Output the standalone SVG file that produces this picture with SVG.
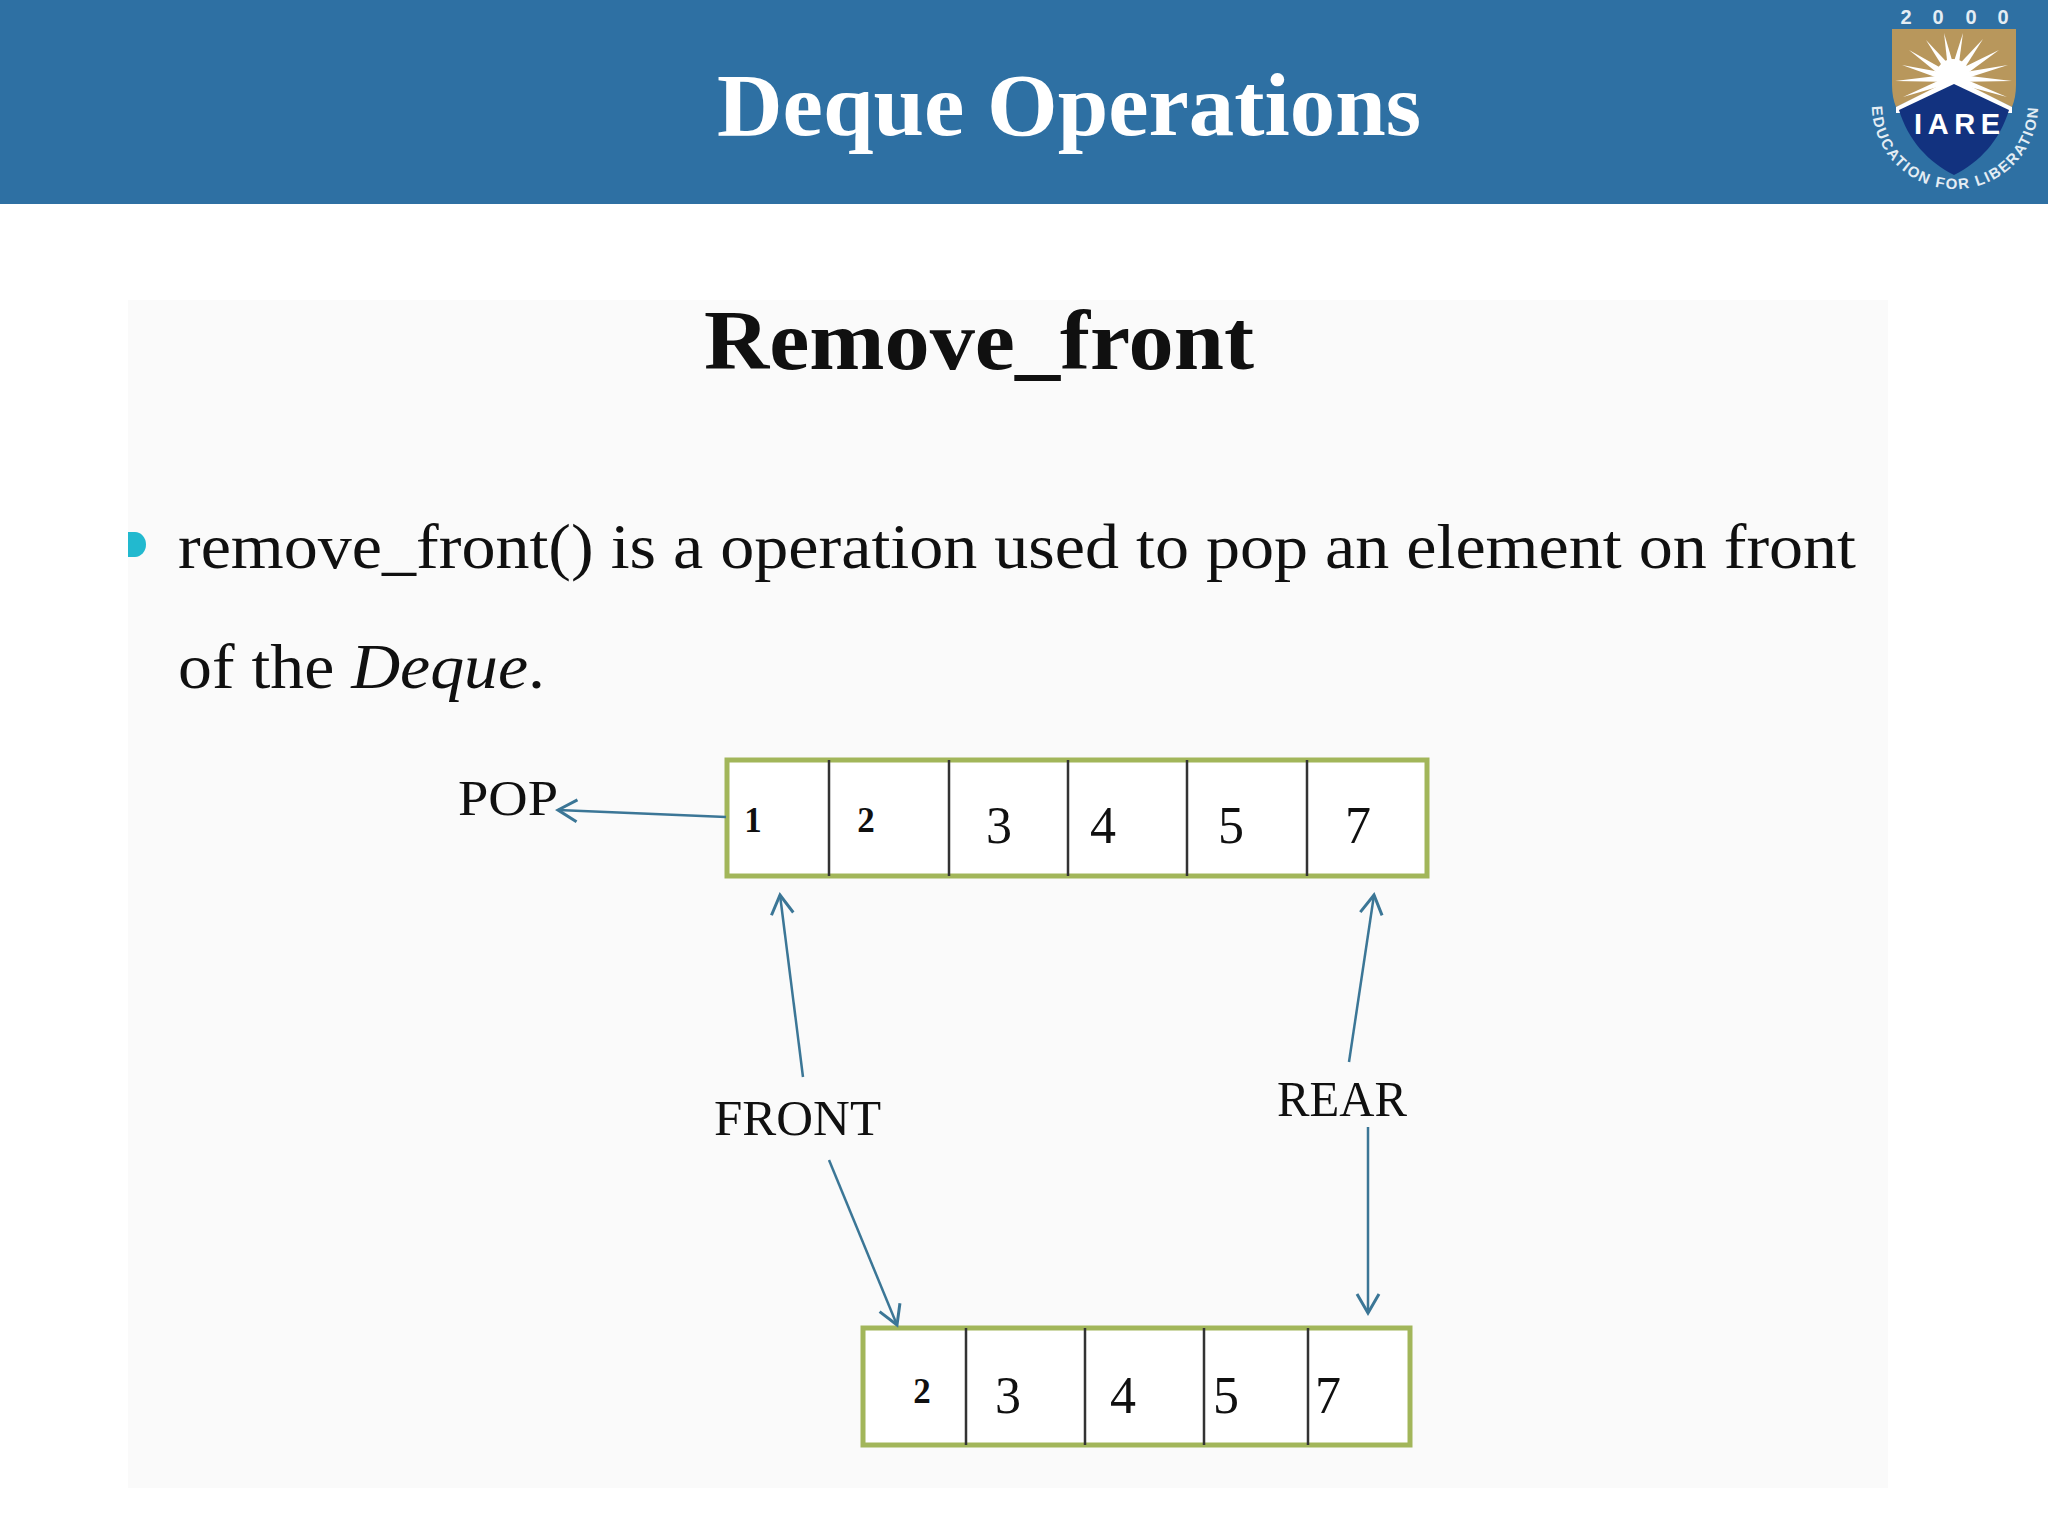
<svg xmlns="http://www.w3.org/2000/svg" width="2048" height="1536" viewBox="0 0 2048 1536">
<style>
.s{font-family:"Liberation Serif","Times New Roman",serif;fill:#101010}
.b{font-weight:700}
.lab{font-size:50px}
.d{font-size:52px}
.ds{font-size:35px;font-weight:700}
.box{fill:#fff;stroke:#a2b65a;stroke-width:5}
.div{stroke:#333;stroke-width:2.5;fill:none}
.con{stroke:#3b7696;stroke-width:2.5;fill:none;marker-end:url(#arr)}
.ray{fill:#fff}
.lg{font-family:"Liberation Sans",Arial,sans-serif;fill:#e4edf4}
</style>
<defs>
<marker id="arr" markerUnits="userSpaceOnUse" markerWidth="30" markerHeight="30" refX="22" refY="15" orient="auto" viewBox="0 0 30 30">
<path d="M3 4L22 15L3 26" fill="none" stroke="#3b7696" stroke-width="3"/>
</marker>
</defs>
<rect width="2048" height="1536" fill="#fff"/>
<g id="banner">
<rect width="2048" height="204" fill="#2e70a3"/>
<text class="b" x="1069" y="135" text-anchor="middle" font-family="Liberation Serif, serif" font-size="88" fill="#fff" textLength="704" lengthAdjust="spacingAndGlyphs">Deque Operations</text>
</g>
<g id="logo">
<g class="lg" font-size="20" font-weight="700" text-anchor="middle"><text x="1906" y="24">2</text><text x="1938" y="24">0</text><text x="1971" y="24">0</text><text x="2003" y="24">0</text></g>
<path d="M1892 29H2016V85Q2016 97 2012 107L1954 80L1896 107Q1892 97 1892 85Z" fill="#b8975c"/>
<g class="ray">
<polygon points="1895,81 1953,74 1953,82"/><polygon points="1902,65 1951,74 1949,82"/><polygon points="1909,50 1950,73 1946,80"/>
<polygon points="1926,40 1949,77 1956,72"/><polygon points="1944,33 1949,78 1957,77"/><polygon points="1963,33 1949,77 1957,78"/>
<polygon points="1983,39 1950,74 1957,80"/><polygon points="1999,50 1952,73 1957,81"/><polygon points="2008,65 1953,74 1955,82"/>
<polygon points="2012,81 1953,74 1953,82"/><polygon points="2007,97 1953,74 1951,82"/><polygon points="1903,97 1953,74 1955,82"/>
<circle cx="1953" cy="76" r="17"/>
</g>
<path d="M1896 107L1954 78L2012 107L2012 113L1896 113Z" fill="#fff"/>
<path d="M1899 110L1954 84L2009 110C2000 140 1980 162 1954 175C1928 162 1908 140 1899 110Z" fill="#12327f"/>
<text x="1957" y="134" text-anchor="middle" font-family="Liberation Sans, sans-serif" font-weight="700" font-size="29" fill="#fff" textLength="86">IARE</text>
<path id="arc" d="M1872 106A83 83 0 0 0 2038 106" fill="none"/>
<text class="lg" font-size="15" font-weight="700" letter-spacing="1.7"><textPath href="#arc" startOffset="50%" text-anchor="middle">EDUCATION FOR LIBERATION</textPath></text>
</g>
<g id="content">
<rect x="128" y="300" width="1760" height="1188" fill="#fafafa"/>
<text class="s b" x="704" y="369" font-size="84" textLength="550" lengthAdjust="spacingAndGlyphs">Remove_front</text>
<path d="M128 532H135A11 12.500 0 0 1 135 557H128Z" fill="#22b9cf"/>
<text class="s" x="178" y="568" font-size="64" textLength="1678" lengthAdjust="spacingAndGlyphs">remove_front() is a operation used to pop an element on front</text>
<text class="s" x="178" y="688" font-size="64" textLength="367" lengthAdjust="spacingAndGlyphs">of the <tspan font-style="italic">Deque</tspan>.</text>
</g>
<g id="array-top">
<rect class="box" x="727" y="760" width="700" height="116"/>
<path class="div" d="M829 760V876M949 760V876M1068 760V876M1187 760V876M1307 760V876"/>
<g class="s" text-anchor="middle">
<text class="ds" x="753" y="832">1</text><text class="ds" x="866" y="832">2</text>
<text class="d" x="999" y="843">3</text><text class="d" x="1103" y="843">4</text><text class="d" x="1231" y="843">5</text><text class="d" x="1358" y="843">7</text>
</g>
</g>
<g id="array-bottom">
<rect class="box" x="863" y="1328" width="547" height="117"/>
<path class="div" d="M966 1328V1445M1085 1328V1445M1204 1328V1445M1308 1328V1445"/>
<g class="s" text-anchor="middle">
<text class="ds" x="922" y="1403">2</text>
<text class="d" x="1008" y="1413">3</text><text class="d" x="1123" y="1413">4</text><text class="d" x="1226" y="1413">5</text><text class="d" x="1328" y="1413">7</text>
</g>
</g>
<g id="labels">
<text class="s lab" x="458" y="815" textLength="100" lengthAdjust="spacingAndGlyphs">POP</text>
<text class="s lab" x="714" y="1135" textLength="167" lengthAdjust="spacingAndGlyphs">FRONT</text>
<text class="s lab" x="1277" y="1116" textLength="130" lengthAdjust="spacingAndGlyphs">REAR</text>
</g>
<g id="connectors">
<line class="con" x1="726" y1="817" x2="558" y2="810"/>
<line class="con" x1="803" y1="1077" x2="780" y2="895"/>
<line class="con" x1="1349" y1="1062" x2="1374" y2="895"/>
<line class="con" x1="829" y1="1160" x2="897" y2="1325"/>
<line class="con" x1="1368" y1="1127" x2="1368" y2="1313"/>
</g>
</svg>
